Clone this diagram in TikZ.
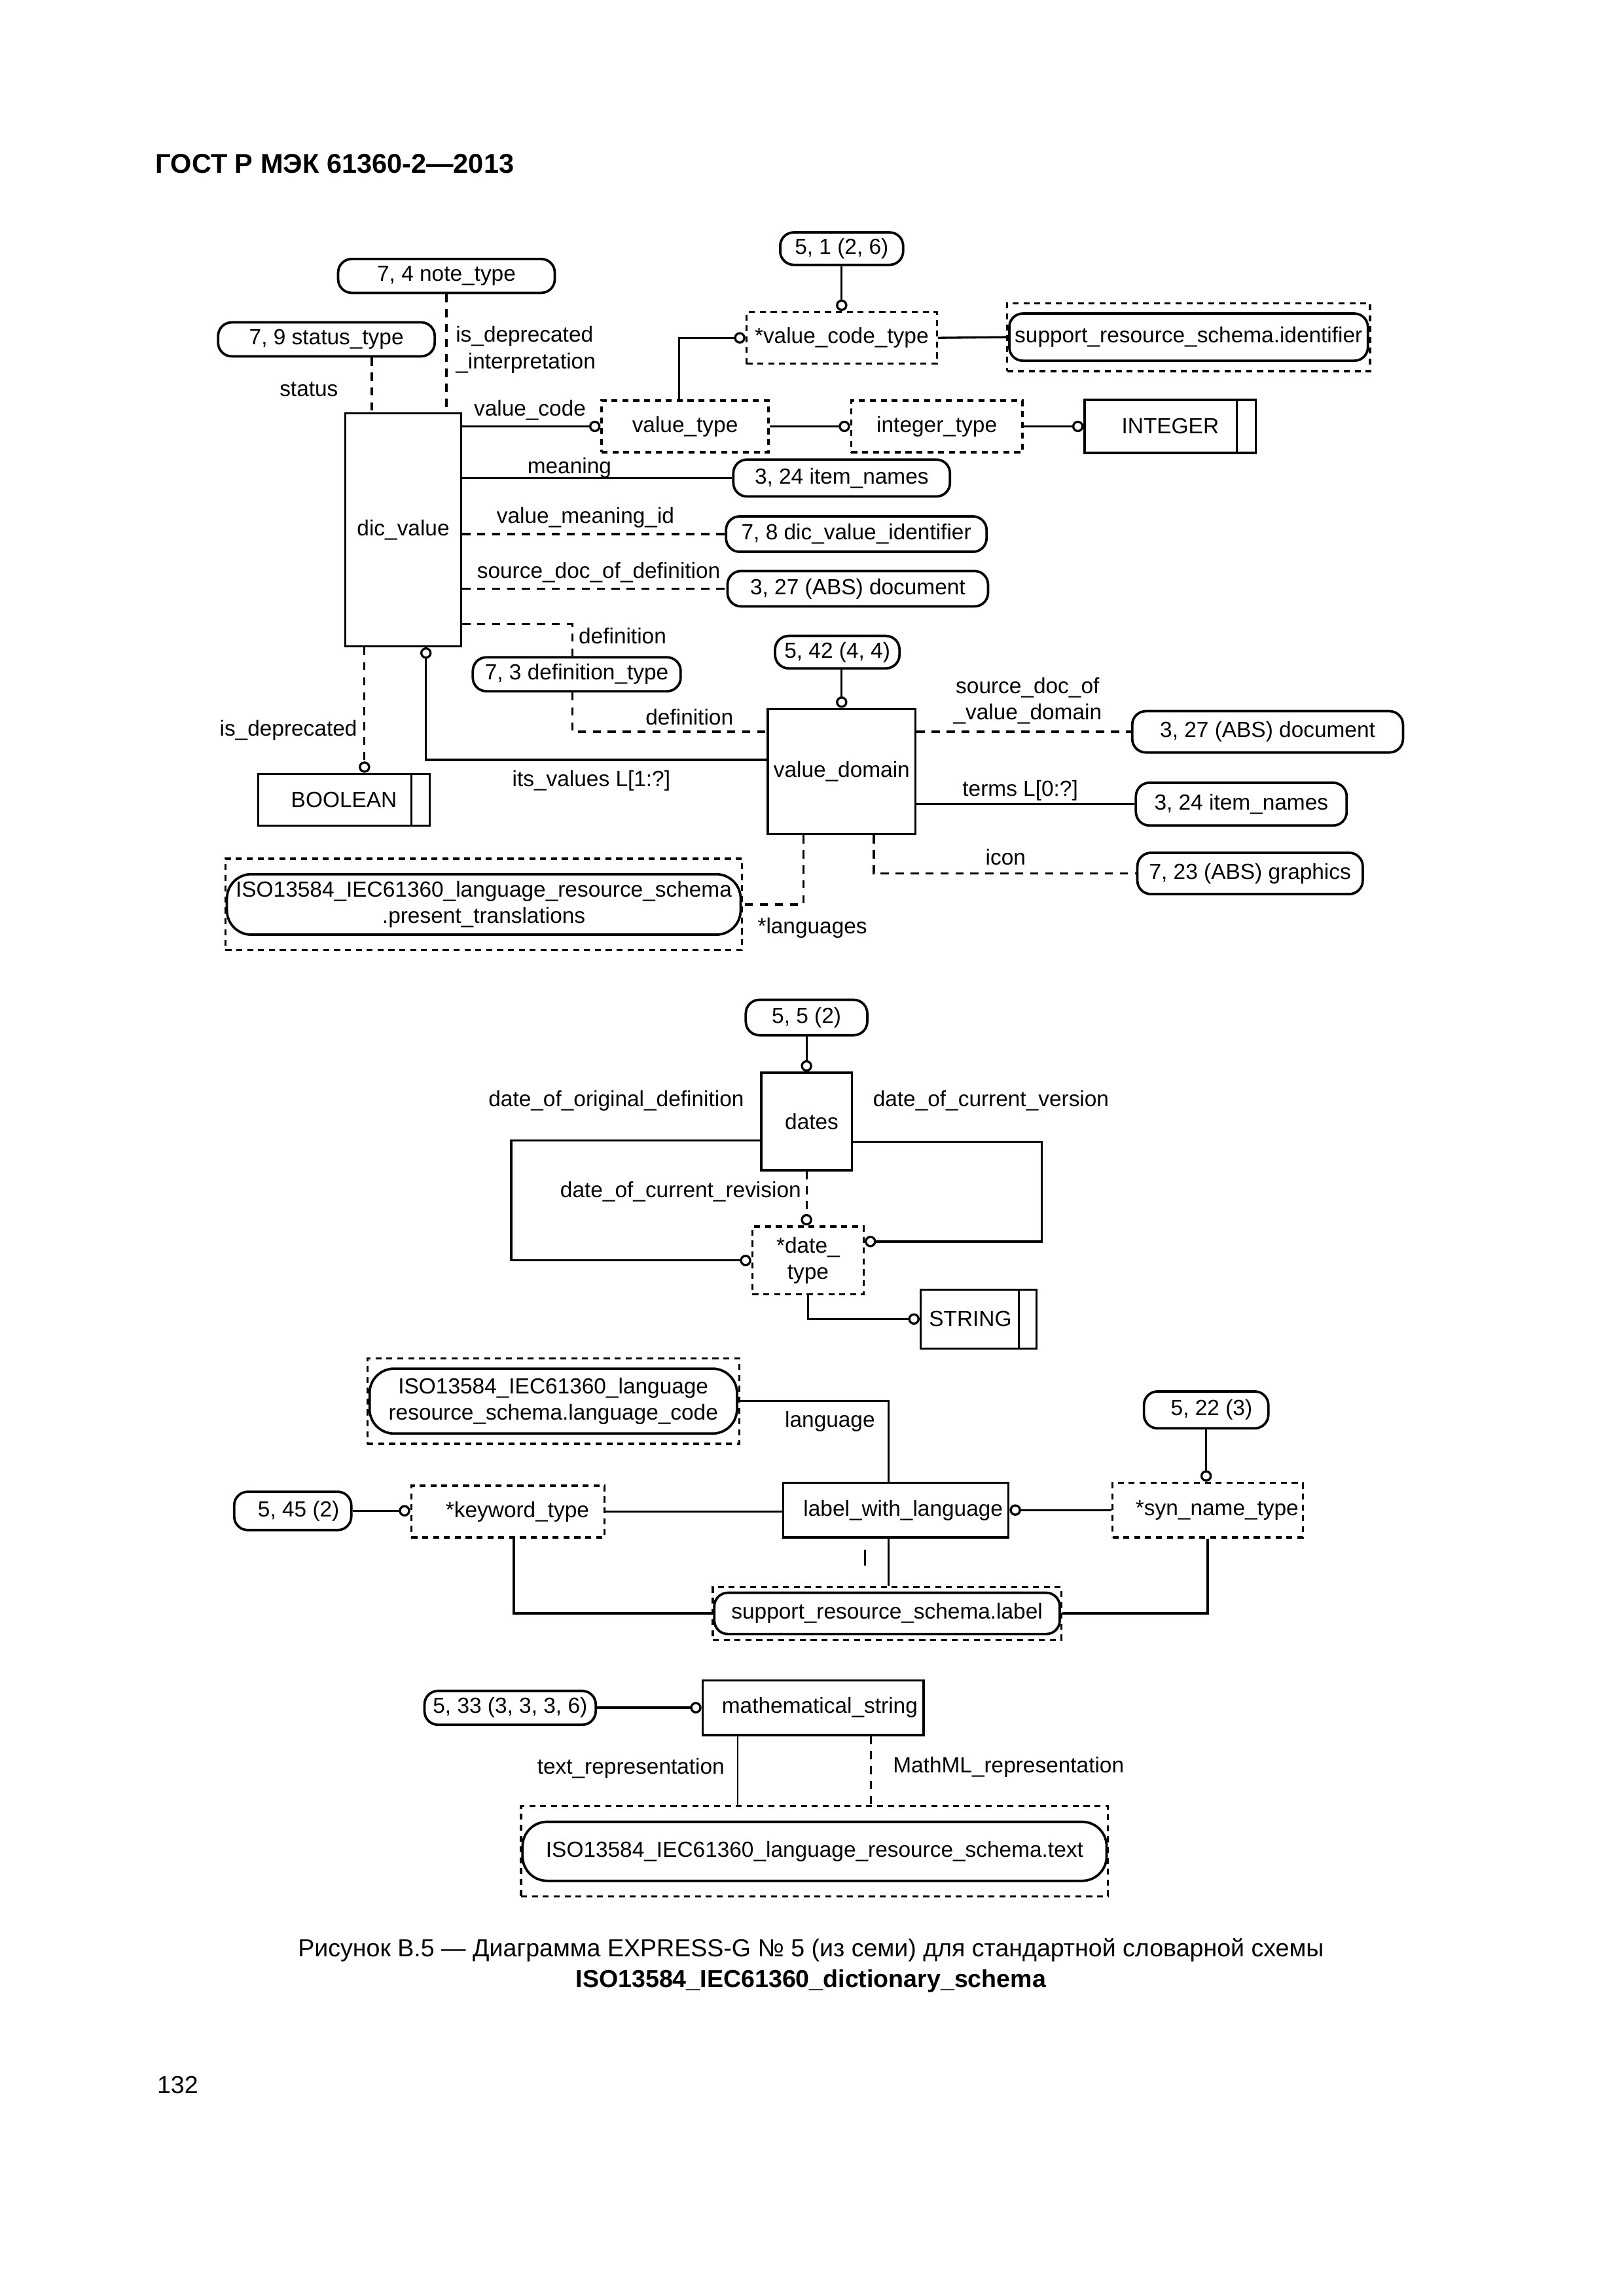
\documentclass[tikz,border=0pt]{standalone}
\usepackage{fontspec}
\setmainfont{Liberation Sans}
\usetikzlibrary{arrows.meta}
\newcommand\dfont{\fontsize{8.05}{9.8}\selectfont}
\begin{document}
\begin{tikzpicture}[x=0.018931cm, y=-0.0190909cm,
  every node/.append style={font=\dfont},
  sz/.style 2 args={minimum width=#1*0.018931cm, minimum height=#2*0.0190909cm},
  ent/.style={draw, line width=0.8pt, inner sep=0pt},
  dbox/.style={draw, line width=0.8pt, dash pattern=on 2.2pt off 1.8pt, inner sep=0pt},
  rbox/.style={draw, line width=0.9pt, rounded corners=5pt, inner sep=0pt},
  outerbox/.style={draw, line width=0.8pt, dash pattern=on 2.2pt off 1.8pt, inner sep=0pt},
  lbl/.style={inner sep=0pt},
  conn/.style={line width=0.8pt},
  dconn/.style={line width=0.8pt, dash pattern=on 3pt off 2.5pt},
  oc/.style={-{Circle[open,length=4.2pt,width=4.2pt]}},
  co/.style={{Circle[open,length=4.2pt,width=4.2pt]}-},
]
\useasboundingbox (0cm,0cm) rectangle (21cm,-29.705cm);

% header
\node[anchor=west, font=\fontsize{10}{12}\selectfont\bfseries, inner sep=0pt] (hdr) at (106,111) {ГОСТ Р МЭК 61360-2—2013};

% ---------- top part ----------
\node[rbox, sz={148}{23}] (nt) at (305,187) {7, 4 note\_type};
\node[rbox, sz={148}{23}] (st) at (223,230) {7, 9 status\_type};
\node[ent, sz={79}{158}] (dv) at (275.5,359) {dic\_value};
\node[lbl, anchor=west, align=left] (isdi) at (311,237) {is\_deprecated\\\_interpretation};
\node[lbl] (lstatus) at (211,264) {status};
\node[lbl] (lvc) at (362,278) {value\_code};
\node[dbox, sz={114}{35}] (vt) at (468,289) {value\_type};
\node[dbox, sz={130}{35}] (vct) at (575,229) {*value\_code\_type};
\node[rbox, sz={84}{22}] (r51) at (575,168.5) {5, 1 (2, 6)};
\node[outerbox, sz={248}{46}] (sri) at (812,228.5) {};
\node[rbox, sz={245}{32}] (srii) at (812,228.5) {support\_resource\_schema.identifier};
\node[dbox, sz={117}{35}] (it) at (640,289) {integer\_type};
\node[ent, sz={117}{36}] (int) at (799.5,289) {INTEGER};
\draw[line width=0.8pt] (845,0 |- int.north) -- (845,0 |- int.south);

\draw[dconn] (nt.south) -- (nt.south |- dv.north);
\draw[dconn] (254,0 |- st.south) -- (254,0 |- dv.north);
\draw[conn,oc] (dv.east |- vt.west) -- (vt.west);
\draw[conn,oc] (464,0 |- vt.north) |- (vct.west);
\draw[conn,oc] (r51.south) -- (vct.north);
\draw[conn] (vct.east) -- (sri.west);
\draw[conn,oc] (vt.east) -- (it.west);
\draw[conn,oc] (it.east) -- (int.west);

\node[rbox, sz={148}{25}] (in1) at (575,324) {3, 24 item\_names};
\draw[conn] (dv.east |- in1.west) -- (in1.west);
\node[lbl] (lmeaning) at (389,317) {meaning};

\node[rbox, sz={178}{24}] (dvid) at (585,362) {7, 8 dic\_value\_identifier};
\draw[dconn] (dv.east |- dvid.west) -- (dvid.west);
\node[lbl] (lvmid) at (400,351) {value\_meaning\_id};

\node[rbox, sz={178}{24}] (doc1) at (586,399) {3, 27 (ABS) document};
\draw[dconn] (dv.east |- doc1.west) -- (doc1.west);
\node[lbl] (lsdd) at (409,388) {source\_doc\_of\_definition};

\node[rbox, sz={142}{23}] (dt) at (394,457) {7, 3 definition\_type};
\draw[dconn] (dv.east |- 0,423) -| (391,0 |- dt.north);
\node[lbl, anchor=west] (ldef1) at (395,431) {definition};

\node[ent, sz={101}{85}] (vd) at (575,523) {value\_domain};
\draw[dconn] (391,0 |- dt.south) |- (vd.west |- 0,496);
\node[lbl] (ldef2) at (471,486) {definition};

\node[rbox, sz={85}{22}] (r542) at (572,442) {5, 42 (4, 4)};
\draw[conn,oc] (r542.south -| vd.north) -- (vd.north);

\draw[conn,oc] (vd.west |- 0,515) -| (291,0 |- dv.south);
\node[lbl] (litsv) at (404,529) {its\_values L[1:?]};

\node[ent, sz={117}{35}] (bool) at (235,542) {BOOLEAN};
\draw[line width=0.8pt] (281,0 |- bool.north) -- (281,0 |- bool.south);
\draw[dconn,oc] (249,0 |- dv.south) -- (249,0 |- bool.north);
\node[lbl] (lisdep) at (197,495) {is\_deprecated};

\node[rbox, sz={185}{28}] (doc2) at (866,496) {3, 27 (ABS) document};
\draw[dconn] (vd.east |- doc2.west) -- (doc2.west);
\node[lbl, align=center] (lsdvd) at (702,475) {source\_doc\_of\\\_value\_domain};

\node[rbox, sz={144}{29}] (in2) at (848,545) {3, 24 item\_names};
\draw[conn] (vd.east |- in2.west) -- (in2.west);
\node[lbl] (lterms) at (697,536) {terms L[0:?]};

\node[rbox, sz={154}{28}] (gr) at (854,592) {7, 23 (ABS) graphics};
\draw[dconn] (597,0 |- vd.south) |- (gr.west);
\node[lbl] (licon) at (687,581) {icon};

\node[outerbox, sz={353}{62}] (pto) at (330.5,613) {};
\node[rbox, sz={351}{41}, rounded corners=9pt, align=center] (pti) at (330.5,613) {ISO13584\_IEC61360\_language\_resource\_schema\\.present\_translations};
\draw[dconn] (549,0 |- vd.south) |- (pto.east);
\node[lbl] (llang) at (555,629) {*languages};

\begin{scope}[yscale=0.9923]
% ---------- dates ----------
\node[rbox, sz={83}{24}] (r55) at (551,695) {5, 5 (2)};
\node[ent, sz={62}{66}] (dates) at (551,766) {\hspace*{3.8pt}dates};
\draw[conn,oc] (r55.south) -- (dates.north);
\node[dbox, sz={76}{46}, align=center] (dtt) at (552,861) {*date\_\\type};
\draw[conn,oc] (dates.west |- 0,779) -- ++(-170,0) |- (dtt.west);
\draw[conn,oc] (dates.east |- 0,780) -- ++(129,0) |- (dtt.east |- 0,848);
\draw[dconn,oc] (dates.south) -- (dates.south |- dtt.north);
\node[ent, sz={79}{40}] (str) at (668.5,901) {STRING\hspace*{6pt}};
\draw[line width=0.8pt] (696,0 |- str.north) -- (696,0 |- str.south);
\draw[conn,oc] (dtt.south) |- (str.west);
\node[lbl] (ldod) at (421,752) {date\_of\_original\_definition};
\node[lbl] (ldcv) at (677,752) {date\_of\_current\_version};
\node[lbl] (ldcr) at (465,814) {date\_of\_current\_revision};

% ---------- label_with_language ----------
\node[outerbox, sz={254}{58}] (lco) at (378,957) {};
\node[rbox, sz={251}{44}, rounded corners=9pt, align=center] (lci) at (378,957) {ISO13584\_IEC61360\_language\\resource\_schema.language\_code};
\node[ent, sz={154}{37}] (lwl) at (612,1031.5) {\hspace*{5.4pt}label\_with\_language};
\draw[conn] (lco.east) -| (607,0 |- lwl.north);
\node[lbl] (llanguage) at (567,971) {language};
\node[dbox, sz={130}{37}] (syn) at (825,1031.5) {\hspace*{7pt}*syn\_name\_type};
\draw[conn,co] (lwl.east) -- (syn.west);
\node[rbox, sz={85}{25}] (r522) at (824,963) {\hspace*{4pt}5, 22 (3)};
\draw[conn,oc] (r522.south) -- (r522.south |- syn.north);
\node[dbox, sz={132}{35}] (kw) at (347,1032.5) {\hspace*{7pt}*keyword\_type};
\draw[conn] (kw.east) -- (lwl.west |- kw.east);
\node[rbox, sz={80}{26}] (r545) at (200,1032) {\hspace*{4.3pt}5, 45 (2)};
\draw[conn,oc] (r545.east) -- (kw.west |- r545.east);
\node[outerbox, sz={238}{36}] (srl) at (606,1102) {};
\node[rbox, sz={236}{28}] (srli) at (606,1102) {support\_resource\_schema.label};
\draw[conn] (351,0 |- kw.south) |- (srl.west);
\draw[conn] (607,0 |- lwl.south) -- (607,0 |- srl.north);
\draw[conn] (825,0 |- syn.south) |- (srl.east);
\node[lbl] (ll) at (591,1064) {l};

% ---------- mathematical_string ----------
\node[rbox, sz={117}{23}] (r533) at (348.5,1166.5) {5, 33 (3, 3, 3, 6)};
\node[ent, sz={151}{37}] (ms) at (555.5,1166.5) {\hspace*{4.9pt}mathematical\_string};
\draw[conn,oc] (r533.east) -- (ms.west);
\node[outerbox, sz={401}{61}] (txo) at (556.5,1264.5) {};
\node[rbox, sz={399}{40}, rounded corners=9pt] (txi) at (556.5,1264.5) {ISO13584\_IEC61360\_language\_resource\_schema.text};
\draw[line width=0.6pt] (504,0 |- ms.south) -- (504,0 |- txo.north);
\draw[dconn] (595,0 |- ms.south) -- (595,0 |- txo.north);
\node[lbl] (ltr) at (431,1208) {text\_representation};
\node[lbl] (lmr) at (689,1207) {MathML\_representation};

% ---------- caption ----------
\node[font=\fontsize{9.05}{11}\selectfont, inner sep=0pt] (cap1) at (554,1332) {Рисунок В.5 — Диаграмма EXPRESS-G № 5 (из семи) для стандартной словарной схемы};
\node[font=\fontsize{9.05}{11}\selectfont\bfseries, inner sep=0pt] (cap2) at (554,1353) {ISO13584\_IEC61360\_dictionary\_schema};
\node[anchor=west, font=\fontsize{9.05}{11}\selectfont, inner sep=0pt] (pg) at (107,1424) {132};
\end{scope}
\end{tikzpicture}
\end{document}
